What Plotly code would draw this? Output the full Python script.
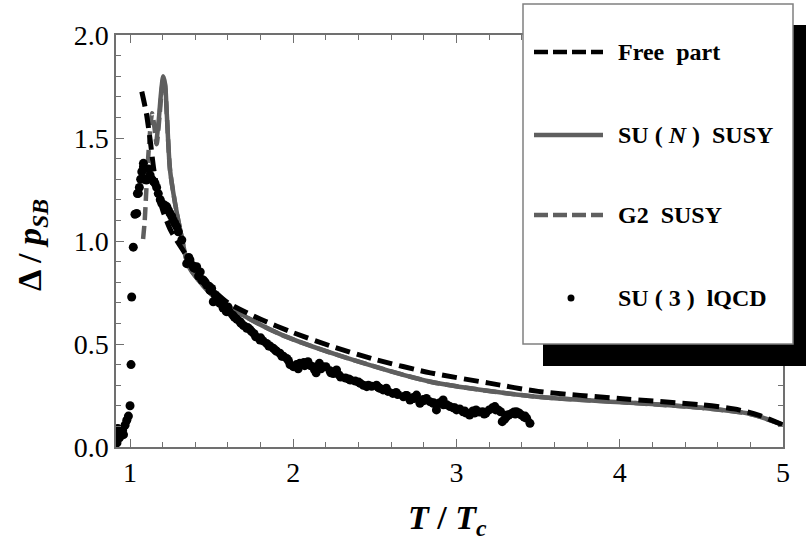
import plotly.graph_objects as go

# ---------------- data ----------------
free_x = [1.072, 1.10, 1.125, 1.145, 1.17, 1.20, 1.25, 1.32, 1.40, 1.50, 1.60, 1.80,
          2.00, 2.23, 2.50, 2.84, 3.20, 3.50, 4.00, 4.50, 4.70, 4.85, 5.00]
free_y = [1.725, 1.62, 1.48, 1.35, 1.24, 1.15, 1.05, 0.96, 0.87, 0.77, 0.70, 0.62,
          0.555, 0.49, 0.425, 0.36, 0.31, 0.27, 0.235, 0.205, 0.185, 0.155, 0.107]

sun_x = [1.160, 1.175, 1.190, 1.203, 1.215, 1.225, 1.245, 1.276, 1.316, 1.357, 1.43,
         1.515, 1.725, 1.93, 2.27, 2.84, 3.49, 4.00, 4.50, 4.80, 5.00]
sun_y = [1.47, 1.58, 1.72, 1.80, 1.76, 1.62, 1.345, 1.183, 1.02, 0.88, 0.80,
         0.73, 0.625, 0.544, 0.447, 0.317, 0.244, 0.218, 0.19, 0.16, 0.107]

g2_x = [1.080, 1.090, 1.100, 1.115, 1.135, 1.150, 1.163, 1.180, 1.195, 1.205, 1.215,
        1.225, 1.245, 1.276, 1.316, 1.357, 1.43, 1.515, 1.725, 1.93, 2.27, 2.84,
        3.49, 4.00, 4.50, 4.80, 5.00]
g2_y = [1.01, 1.10, 1.25, 1.45, 1.62, 1.55, 1.47, 1.60, 1.74, 1.79, 1.75,
        1.62, 1.345, 1.183, 1.02, 0.88, 0.80, 0.73, 0.625, 0.544, 0.447, 0.317,
        0.244, 0.218, 0.19, 0.16, 0.107]

lqcd_x = [0.905, 0.912, 0.92, 0.92, 0.925, 0.935, 0.94, 0.955, 0.96, 0.97, 0.98, 0.99,
          1.00, 1.006, 1.01, 1.02, 1.03, 1.041, 1.045, 1.051, 1.057, 1.065, 1.072,
          1.082, 1.082, 1.09, 1.10, 1.113, 1.123, 1.133, 1.143, 1.153, 1.163, 1.173,
          1.185, 1.194, 1.21, 1.225, 1.235, 1.245, 1.255, 1.265, 1.275, 1.286, 1.296,
          1.317, 1.347, 1.367, 1.385, 1.398, 1.408, 1.43, 1.44, 1.45, 1.47, 1.485,
          1.50, 1.51, 1.53, 1.55, 1.57, 1.59, 1.61, 1.63, 1.655, 1.674, 1.695, 1.715,
          1.735, 1.745, 1.77, 1.796, 1.815, 1.837, 1.858, 1.878, 1.898, 1.918, 1.94,
          1.96, 1.98, 2.00, 2.02, 2.04, 2.065, 2.09, 2.105, 2.12, 2.14, 2.16, 2.18,
          2.20, 2.225, 2.245, 2.265, 2.29, 2.32, 2.35, 2.38, 2.41, 2.43, 2.45, 2.48,
          2.51, 2.53, 2.55, 2.58, 2.61, 2.64, 2.675, 2.695, 2.715, 2.735, 2.755,
          2.776, 2.796, 2.816, 2.837, 2.857, 2.877, 2.897, 2.918, 2.94, 2.96, 2.98,
          3.00, 3.02, 3.04, 3.06, 3.08, 3.10, 3.12, 3.14, 3.16, 3.18, 3.20, 3.22,
          3.235, 3.255, 3.27, 3.28, 3.295, 3.306, 3.32, 3.337, 3.352, 3.367, 3.383,
          3.398, 3.414, 3.43, 3.45,
          # extra points thickening the band
          1.36, 1.39, 1.42, 1.46, 1.49, 1.52, 1.56, 1.60, 1.64, 1.68, 1.72, 1.76,
          1.80, 1.85, 1.89, 1.93, 1.97, 2.03, 2.07, 2.13, 2.17, 2.23, 2.28, 2.34,
          2.40, 2.46, 2.52, 2.57, 2.63, 2.69, 2.74, 2.80, 2.86, 2.92, 2.99, 3.05,
          3.11, 3.17, 3.24, 3.31, 3.36, 3.42]
lqcd_y = [0.07, 0.03, 0.068, 0.02, 0.09, 0.045, 0.075, 0.083, 0.06, 0.107, 0.13, 0.15,
          0.20, 0.40, 0.728, 0.97, 1.13, 1.134, 1.23, 1.231, 1.26, 1.30, 1.336,
          1.377, 1.36, 1.30, 1.296, 1.35, 1.32, 1.30, 1.29, 1.28, 1.26, 1.23,
          1.20, 1.183, 1.175, 1.167, 1.15, 1.134, 1.12, 1.10, 1.085, 1.07, 1.045,
          1.005, 0.89, 0.908, 0.88, 0.867, 0.875, 0.85, 0.81, 0.81, 0.786, 0.78,
          0.77, 0.705, 0.71, 0.697, 0.675, 0.657, 0.655, 0.64, 0.62, 0.608, 0.59, 0.576,
          0.57, 0.56, 0.535, 0.519, 0.515, 0.503, 0.49, 0.479, 0.465, 0.455, 0.44,
          0.43, 0.40, 0.39, 0.40, 0.406, 0.41, 0.414, 0.395, 0.39, 0.36, 0.406, 0.39,
          0.39, 0.37, 0.357, 0.374, 0.34, 0.335, 0.325, 0.32, 0.309, 0.30, 0.293, 0.295,
          0.30, 0.285, 0.277, 0.27, 0.26, 0.255, 0.244, 0.25, 0.228, 0.24, 0.252,
          0.212, 0.23, 0.236, 0.22, 0.212, 0.18, 0.215, 0.228, 0.205, 0.196, 0.19,
          0.18, 0.185, 0.171, 0.165, 0.155, 0.175, 0.18, 0.17, 0.171, 0.165, 0.18, 0.19,
          0.196, 0.18, 0.171, 0.123, 0.135, 0.147, 0.155, 0.163, 0.17, 0.171, 0.165,
          0.155, 0.145, 0.139, 0.115,
          0.92, 0.87, 0.83, 0.80, 0.76, 0.74, 0.70, 0.68, 0.63, 0.60, 0.58, 0.55,
          0.53, 0.49, 0.47, 0.44, 0.42, 0.38, 0.395, 0.375, 0.38, 0.36, 0.35, 0.33,
          0.315, 0.30, 0.29, 0.285, 0.265, 0.25, 0.235, 0.225, 0.215, 0.205, 0.19, 0.175,
          0.165, 0.16, 0.18, 0.155, 0.16, 0.15]

x_ticks = [1, 2, 3, 4, 5]
y_ticks = [0.0, 0.5, 1.0, 1.5, 2.0]
legend_labels = ["<b>Free\u00a0\u00a0part</b>",
                 "<b>SU\u00a0(\u00a0<i>N</i>\u00a0)\u00a0\u00a0SUSY</b>",
                 "<b>G2\u00a0\u00a0SUSY</b>",
                 "<b>SU\u00a0(\u00a03\u00a0)\u00a0\u00a0lQCD</b>"]

# ---------------- styling / layout ----------------
W, H = 806, 544
L, R, T, B = 116, 783, 35, 447
GRAY = "#5f5f5f"
AX = "#707070"
FONT = "'Times New Roman', 'Liberation Serif', Times, serif"

def px(x):
    return (x - L) / (R - L)

def py(y):
    return (B - y) / (B - T)

fig = go.Figure()
fig.add_trace(go.Scatter(x=sun_x, y=sun_y, mode="lines",
                         line=dict(color=GRAY, width=4.5, shape="spline", smoothing=0.7),
                         name="SU(N) SUSY"))
fig.add_trace(go.Scatter(x=g2_x, y=g2_y, mode="lines",
                         line=dict(color=GRAY, width=4.5, dash="13px,6px",
                                   shape="spline", smoothing=0.7), name="G2 SUSY"))
fig.add_trace(go.Scatter(x=free_x, y=free_y, mode="lines",
                         line=dict(color="black", width=5, dash="15px,7px",
                                   shape="spline", smoothing=0.7), name="Free part"))
fig.add_trace(go.Scatter(x=lqcd_x, y=lqcd_y, mode="markers",
                         marker=dict(color="black", size=9), name="SU(3) lQCD"))

axis_common = dict(showline=True, linecolor=AX, linewidth=1.5, mirror="allticks",
                   ticks="inside", ticklen=8, tickwidth=1, tickcolor=AX,
                   showgrid=False, zeroline=False,
                   tickfont=dict(family=FONT, size=28, color="black"))

fig.update_xaxes(range=[0.914, 5.0], tickvals=x_ticks, ticktext=[str(v) for v in x_ticks],
                 minor=dict(dtick=0.2, tick0=0, ticks="inside", ticklen=5, tickcolor=AX),
                 **axis_common)
fig.update_yaxes(range=[0.0, 2.0], tickvals=y_ticks, ticktext=["%.1f" % v for v in y_ticks],
                 minor=dict(dtick=0.1, tick0=0, ticks="inside", ticklen=5, tickcolor=AX),
                 **axis_common)

shapes = [
    # legend shadow
    dict(type="rect", xref="paper", yref="paper", x0=px(543), x1=px(830),
         y0=py(366), y1=py(25), fillcolor="black", line=dict(width=0), layer="above"),
    # legend box
    dict(type="rect", xref="paper", yref="paper", x0=px(523), x1=px(793),
         y0=py(344), y1=py(4), fillcolor="white", line=dict(color="#808080", width=1.5),
         layer="above"),
    dict(type="line", xref="paper", yref="paper", x0=px(534), x1=px(603),
         y0=py(52), y1=py(52), line=dict(color="black", width=4.5, dash="14px,5px"), layer="above"),
    dict(type="line", xref="paper", yref="paper", x0=px(534), x1=px(603),
         y0=py(135), y1=py(135), line=dict(color=GRAY, width=4.5), layer="above"),
    dict(type="line", xref="paper", yref="paper", x0=px(534), x1=px(603),
         y0=py(215), y1=py(215), line=dict(color=GRAY, width=4.5, dash="14px,5px"), layer="above"),
    dict(type="circle", xref="paper", yref="paper", x0=px(567.5), x1=px(574.5),
         y0=py(301.5), y1=py(294.5), fillcolor="black", line=dict(width=0), layer="above"),
]

annotations = []
for lab, yy in zip(legend_labels, [52, 135, 215, 298]):
    annotations.append(dict(text=lab, xref="paper", yref="paper", x=px(616), y=py(yy),
                            xanchor="left", yanchor="middle", showarrow=False,
                            font=dict(family=FONT, size=24, color="black")))
annotations.append(dict(text="<b><i>T</i> / <i>T</i><sub><i>c</i></sub></b>",
                        xref="paper", yref="paper", x=px(447), y=py(520),
                        xanchor="center", yanchor="middle", showarrow=False,
                        font=dict(family=FONT, size=34, color="black")))
annotations.append(dict(text="<b>\u0394 / <i>p</i><sub><i>SB</i></sub></b>",
                        xref="paper", yref="paper", x=px(32), y=py(245), textangle=-90,
                        xanchor="center", yanchor="middle", showarrow=False,
                        font=dict(family=FONT, size=34, color="black")))

fig.update_layout(width=W, height=H, margin=dict(l=L, r=W - R, t=T, b=H - B),
                  plot_bgcolor="white", paper_bgcolor="white", showlegend=False,
                  shapes=shapes, annotations=annotations)

fig.write_html("out.html", config={"displayModeBar": False},
               post_script="document.body.style.margin='0px';document.body.style.padding='0px';")
